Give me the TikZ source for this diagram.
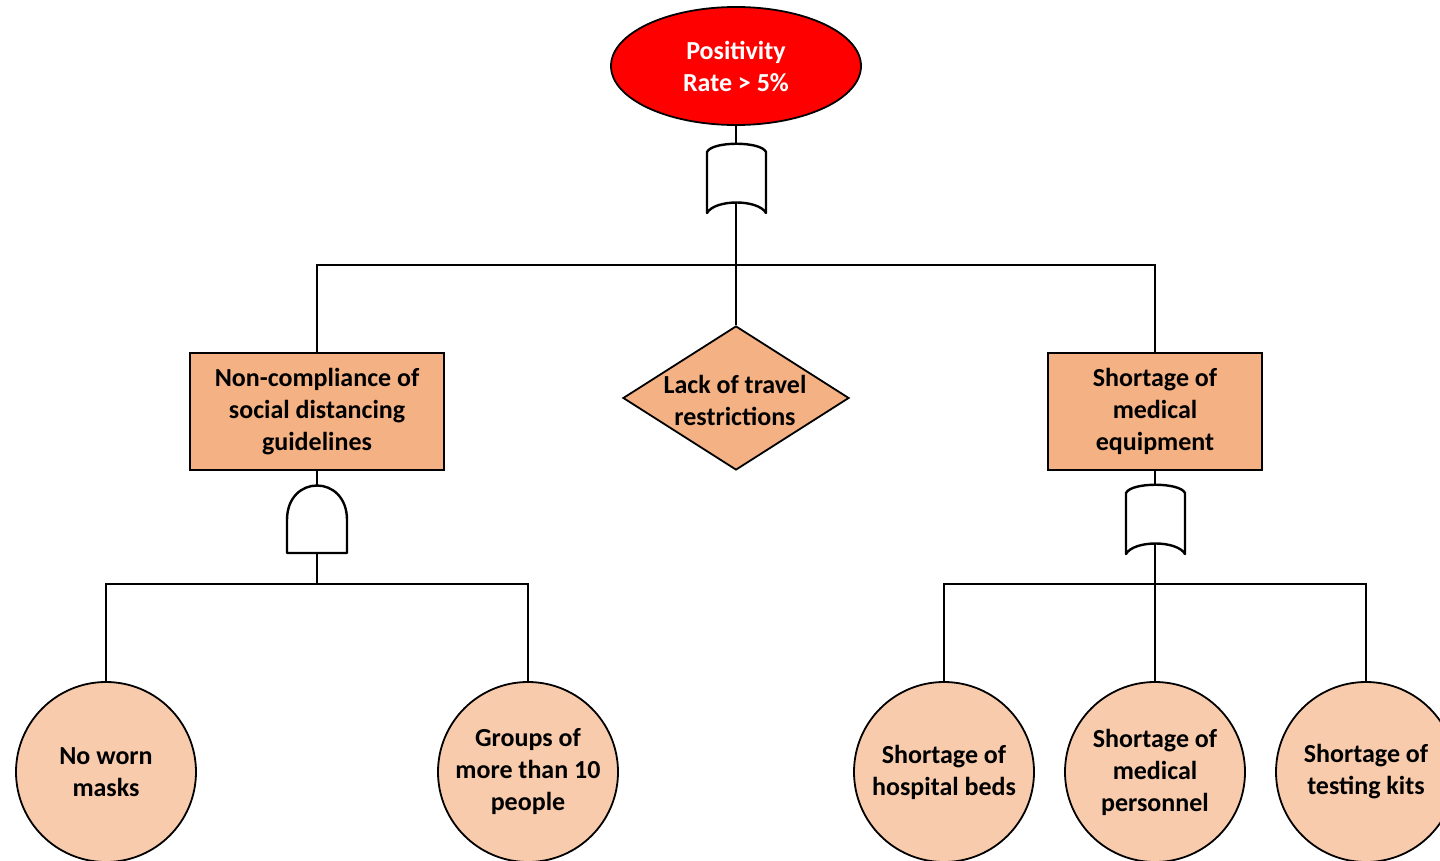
\documentclass[tikz,border=0pt]{standalone}
\usepackage{fontspec}
\setmainfont{Carlito}
\usetikzlibrary{shapes.geometric}
\definecolor{eventred}{HTML}{FF0000}
\definecolor{causefill}{HTML}{F4B183}
\definecolor{basefill}{HTML}{F8CBAD}
\begin{document}
\begin{tikzpicture}[x=1pt,y=-1pt,
  lbl/.style={font=\fontsize{26}{32}\selectfont\bfseries, align=center, inner sep=0pt},
  wire/.style={line width=2.4pt},
  gate/.style={line width=2.4pt, fill=white, line join=round},
  topevent/.style={lbl, ellipse, draw, line width=1.8pt, fill=eventred, text=white,
    minimum width=250pt, minimum height=118pt},
  causebox/.style={lbl, rectangle, draw, line width=1.6pt, fill=causefill},
  causediamond/.style={diamond, draw, line width=1.8pt, fill=causefill,
    minimum width=226pt, minimum height=144pt, inner sep=0pt},
  basicevent/.style={lbl, circle, draw, line width=1.8pt, fill=basefill, minimum size=180pt}]
\useasboundingbox (0,0) rectangle (1440,861);
\clip (0,0) rectangle (1440,861);
\fill[white] (0,0) rectangle (1440,861);

% events
\node[topevent] (top) at (736,66) {Positivity\\Rate > 5\%};
\node[causebox, minimum width=254pt, minimum height=117pt] (social) at (317,411.5)
  {Non-compliance of\\social distancing\\guidelines};
\node[causediamond] (travel) at (736,398) {};
\node[lbl] (travellbl) at (735,400) {Lack of travel\\restrictions};
\node[causebox, minimum width=214pt, minimum height=117pt] (equip) at (1155,411.5)
  {Shortage of\\medical\\equipment};
\node[basicevent] (masks) at (106,772) {No worn\\masks};
\node[basicevent] (groups) at (528,772) {Groups of\\more than 10\\people};
\node[basicevent] (beds) at (944,772) {Shortage of\\hospital beds};
\node[basicevent] (staff) at (1155,772) {Shortage of\\medical\\personnel};
\node[basicevent] (kits) at (1366,772) {Shortage of\\testing kits};

% gate terminals and bus junctions
\coordinate (orAin) at (736,144);
\coordinate (orAout) at (736,202);
\coordinate (busA) at (736,265);
\coordinate (andBin) at (317,486);
\coordinate (andBout) at (317,553);
\coordinate (busB) at (317,584);
\coordinate (orCin) at (1155,486);
\coordinate (orCout) at (1155,544);
\coordinate (busC) at (1155,584);

% connectors
\draw[wire] (top.south) -- (orAin);
\draw[wire] (orAout) -- (travel.north);
\draw[wire] (social.north) |- (busA) -| (equip.north);
\draw[wire] (social.south) -- (andBin);
\draw[wire] (andBout) -- (busB);
\draw[wire] (masks.north) |- (busB) -| (groups.north);
\draw[wire] (equip.south) -- (orCin);
\draw[wire] (orCout) -- (staff.north);
\draw[wire] (beds.north) |- (busC) -| (kits.north);

% OR gate under the top event
\draw[gate] (707,213) -- (707,152) .. controls (712,141) and (761,141) .. (766,152)
  -- (766,213) .. controls (758,199) and (715,199) .. (707,213) -- cycle;
% AND gate under the social distancing cause
\draw[gate] (287,553) -- (287,520) .. controls (287,474) and (347,474) .. (347,520)
  -- (347,553) -- cycle;
% OR gate under the medical equipment cause
\draw[gate] (1126,554) -- (1126,493) .. controls (1131,482) and (1180,482) .. (1185,493)
  -- (1185,554) .. controls (1177,540) and (1134,540) .. (1126,554) -- cycle;
\draw[wire] (orAout) -- (busA);
\draw[wire] (orCout) -- (busC);
\end{tikzpicture}
\end{document}
